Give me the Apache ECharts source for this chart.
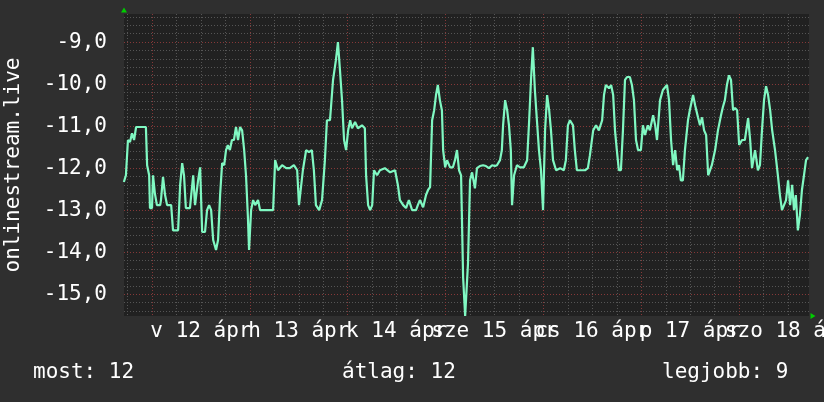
<!DOCTYPE html>
<html><head><meta charset="utf-8">
<script src="https://cdn.jsdelivr.net/npm/echarts@6/dist/echarts.min.js"></script>
<style>html,body{margin:0;padding:0;background:#2f2f2f}#c{width:824px;height:402px}</style>
</head><body><div id="c"></div>
<script>
// time in hours relative to 12 Apr 00:00
const hours = [-6.9,-6.4,-5.9,-5.4,-4.9,-4.4,-3.9,-2.9,-1.5,-1.2,-0.7,-0.5,0.0,0.25,0.7,1.2,2.0,2.2,2.7,3.2,3.7,4.7,5.15,6.4,6.9,7.4,7.85,8.3,9.3,10.1,10.55,11.3,11.8,12.3,13.0,13.5,14.0,14.5,15.0,15.7,16.2,16.7,17.2,17.7,18.15,18.6,19.1,19.6,20.1,20.6,21.1,21.6,22.1,22.6,23.05,23.5,23.8,24.3,24.8,25.3,26.0,26.5,29.7,30.2,30.9,31.9,32.9,33.8,34.8,35.6,36.05,36.5,37.0,37.8,38.5,39.2,39.7,40.2,41.0,41.7,42.4,42.9,43.65,44.4,45.1,45.6,46.1,46.6,47.1,47.6,48.1,48.6,49.05,49.8,50.5,51.5,52.2,52.5,53.0,53.5,54.0,54.45,55.2,55.9,57.1,58.4,59.6,60.3,60.8,61.6,62.3,63.0,63.8,64.75,65.2,65.7,66.5,67.2,67.7,68.2,68.7,69.2,69.65,70.1,70.6,71.1,71.4,71.9,72.35,73.1,73.8,74.3,74.8,75.3,75.8,76.0,76.3,76.8,77.25,77.5,78.0,78.5,79.2,79.7,80.4,81.2,81.9,82.65,83.4,84.1,84.6,85.35,85.8,86.1,86.6,87.1,87.55,88.0,88.3,88.8,89.5,90.25,91.2,92.0,92.5,92.95,93.4,93.9,94.4,94.9,95.4,95.9,96.4,96.9,97.4,97.85,98.35,99.1,100.1,101.0,101.5,102.0,102.5,103.25,103.7,104.2,105.0,106.2,106.9,107.4,108.2,108.9,109.6,110.4,110.85,111.3,112.1,112.6,113.1,113.55,114.0,114.5,115.0,115.5,116.0,116.5,117.2,117.7,118.2,118.7,119.2,119.9,120.4,120.9,121.6,122.1,122.9,123.4,123.85,124.6,125.3,126.3,126.8,127.3,127.8,128.3,128.8,129.25,129.7,130.2,130.7,131.45,131.9,132.7,133.2,133.9,134.4,134.9,135.4,135.9,136.4,136.85,137.3,138.1,138.8,139.55,140.0,140.5,141.0,141.5,142.0,142.5,143.0,143.5,144.0,144.7,145.4,146.2,146.7,147.15,147.9,148.6,149.1,149.6,150.1,150.6,151.1,151.6,152.1,152.8,153.5,154.0,154.5,155.0,155.5,156.0,156.5,157.0,157.45,157.9,158.4,158.9,159.4,159.9,160.4,160.9];
const values = [-12.33,-12.17,-11.33,-11.38,-11.17,-11.33,-11.02,-11.02,-11.02,-11.93,-12.17,-12.95,-12.95,-12.17,-12.60,-12.88,-12.88,-12.76,-12.21,-12.64,-12.88,-12.88,-13.48,-13.48,-12.40,-11.88,-12.17,-12.95,-12.95,-12.17,-12.88,-12.29,-11.98,-13.52,-13.52,-13.0,-12.88,-13.0,-13.71,-13.95,-13.71,-12.64,-11.88,-11.93,-11.57,-11.45,-11.57,-11.33,-11.33,-11.02,-11.33,-11.02,-11.10,-11.57,-12.17,-13.12,-13.95,-13.0,-12.76,-12.88,-12.76,-13.0,-13.0,-11.81,-12.05,-11.93,-12.0,-12.0,-11.93,-12.05,-12.88,-12.88,-12.05,-11.57,-11.62,-11.57,-12.05,-12.88,-13.0,-12.76,-11.81,-10.86,-10.86,-9.90,-9.43,-9.0,-9.67,-10.38,-11.33,-11.57,-11.10,-10.86,-11.05,-10.90,-11.05,-10.98,-11.05,-12.17,-12.88,-13.0,-12.88,-12.05,-12.17,-12.05,-12.0,-12.10,-12.05,-12.40,-12.76,-12.88,-12.95,-12.76,-13.0,-13.0,-12.88,-12.76,-12.93,-12.64,-12.52,-12.45,-10.86,-10.62,-10.26,-10.02,-10.38,-10.62,-11.57,-11.98,-11.81,-11.98,-11.98,-11.81,-11.57,-12.05,-12.17,-12.17,-14.60,-15.52,-15.52,-14.26,-12.29,-12.10,-12.48,-12.0,-11.95,-11.93,-11.95,-12.0,-11.93,-11.95,-11.93,-11.81,-11.57,-10.98,-10.38,-10.62,-10.98,-11.57,-12.88,-12.17,-11.93,-11.98,-11.98,-11.81,-10.86,-9.90,-9.12,-10.14,-10.86,-11.57,-12.05,-13.0,-11.10,-10.26,-10.62,-11.10,-11.81,-12.05,-12.0,-12.05,-11.81,-10.98,-10.86,-10.98,-11.57,-12.05,-12.05,-12.05,-12.0,-11.69,-11.10,-10.98,-11.10,-10.86,-10.26,-10.02,-10.10,-10.02,-10.26,-11.10,-11.57,-12.05,-12.05,-11.10,-9.90,-9.83,-9.83,-10.02,-10.38,-11.33,-11.57,-11.57,-10.98,-11.21,-10.98,-11.10,-10.74,-10.98,-11.33,-10.38,-10.14,-10.02,-10.38,-11.33,-11.93,-11.57,-12.05,-11.93,-12.29,-12.29,-11.57,-10.86,-10.62,-10.26,-10.50,-10.79,-10.98,-10.79,-11.10,-11.21,-12.17,-12.05,-11.93,-11.57,-11.10,-10.74,-10.55,-10.38,-10.02,-9.79,-9.90,-10.62,-10.57,-10.62,-11.45,-11.33,-11.33,-10.81,-11.33,-12.0,-11.57,-12.05,-11.93,-11.10,-10.38,-10.05,-10.26,-10.62,-11.10,-11.57,-12.17,-12.64,-13.0,-12.88,-12.76,-12.29,-12.88,-12.40,-13.0,-12.64,-13.48,-13.12,-12.52,-12.17,-11.81,-11.74];
const dayLabels = ['v 12 ápr','h 13 ápr','k 14 ápr','sze 15 ápr','cs 16 ápr','p 17 ápr','szo 18 ápr'];
const dayLabelHours = [12,36,60,84,108,132,156];
const midnightHours = [0,24,48,72,96,120,144];
const yMajorTicks = [-15,-14,-13,-12,-11,-10,-9];
const yAxisName = 'onlinestream.live';
const legendTexts = ['most: 12','átlag: 12','legjobb: 9'];

const X_MIN = -6.87, X_MAX = 161.13, Y_MIN = -15.52, Y_MAX = -8.33;
const FONT = 'DejaVu Sans Mono';
const minorX = []; for (let h = -6; h <= X_MAX; h += 6) minorX.push(h);
const minorY = []; for (let k = -77; k <= -42; k++) minorY.push(+(k * 0.2).toFixed(1));
const legendLeft = [33, 342, 662];
const evenLabelHours = dayLabelHours.filter((_, i) => i % 2 === 0);
const oddLabelHours = dayLabelHours.filter((_, i) => i % 2 === 1);

const chart = echarts.init(document.getElementById('c'), null, {renderer: 'canvas'});
const minorLine = {show: true, lineStyle: {color: '#555555', type: [1, 2], width: 1}};
const majorLine = {show: true, lineStyle: {color: '#853838', type: [1, 2], width: 1}};
const labelStyle = {color: '#ffffff', fontFamily: FONT, fontSize: 21, margin: 5, showMinLabel: true, showMaxLabel: true, hideOverlap: false,
  formatter: v => dayLabels[dayLabelHours.indexOf(v)]};
chart.setOption({
  animation: false,
  backgroundColor: '#2f2f2f',
  grid: {left: 124, top: 14, width: 685, height: 302, show: true, backgroundColor: '#212121', borderWidth: 0, containLabel: false, outerBoundsMode: 'none'},
  xAxis: [
    {type: 'value', min: X_MIN, max: X_MAX, position: 'bottom', axisLine: {show: false, onZero: false},
     axisTick: {show: false, customValues: minorX}, axisLabel: {show: false}, splitLine: minorLine},
    {type: 'value', min: X_MIN, max: X_MAX, position: 'bottom',
     axisLine: {show: true, onZero: false, symbol: ['none', 'triangle'], symbolSize: [6, 5], symbolOffset: [0, 4], lineStyle: {color: '#00cc00', width: 0}},
     axisTick: {show: false, customValues: midnightHours},
     axisLabel: Object.assign({customValues: evenLabelHours}, labelStyle),
     splitLine: majorLine},
    {type: 'value', min: X_MIN, max: X_MAX, position: 'bottom', axisLine: {show: false, onZero: false},
     axisTick: {show: false}, splitLine: {show: false},
     axisLabel: Object.assign({customValues: oddLabelHours}, labelStyle)}
  ],
  yAxis: [
    {type: 'value', min: Y_MIN, max: Y_MAX, position: 'left', axisLine: {show: false, onZero: false},
     axisTick: {show: false, customValues: minorY}, axisLabel: {show: false}, splitLine: minorLine},
    {type: 'value', min: Y_MIN, max: Y_MAX, position: 'left',
     name: yAxisName, nameLocation: 'middle', nameGap: 100, nameRotate: 90,
     nameTextStyle: {color: '#ffffff', fontFamily: FONT, fontSize: 21},
     axisLine: {show: true, onZero: false, symbol: ['none', 'triangle'], symbolSize: [6, 5], symbolOffset: [0, 4], lineStyle: {color: '#00cc00', width: 0}},
     axisTick: {show: false, customValues: yMajorTicks},
     axisLabel: {customValues: yMajorTicks, formatter: v => v.toFixed(1).replace('.', ','), color: '#ffffff', fontFamily: FONT, fontSize: 21, margin: 17, showMinLabel: true, showMaxLabel: true},
     splitLine: majorLine}
  ],
  series: [{
    type: 'line', xAxisIndex: 1, yAxisIndex: 1, showSymbol: false, clip: true,
    data: hours.map((h, i) => [h, values[i]]),
    lineStyle: {color: '#80f8c2', width: 2.2}
  }],
  graphic: legendTexts.map((t, i) => ({
    type: 'text', left: legendLeft[i], top: 362,
    style: {text: t, fill: '#ffffff', font: '21px "' + FONT + '"'}
  }))
});
</script></body></html>
